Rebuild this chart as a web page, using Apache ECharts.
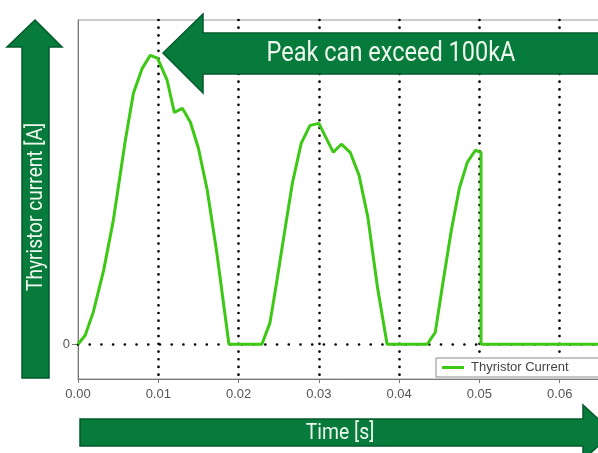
<!DOCTYPE html>
<html>
<head>
<meta charset="utf-8">
<script src="https://cdn.jsdelivr.net/npm/echarts@6/dist/echarts.min.js"></script>
<style>
html,body{margin:0;padding:0;background:#fff;}
#chart{width:598px;height:453px;}
</style>
</head>
<body>
<div id="chart"></div>
<script>
// Time in seconds
var timeS = [0, 0.0009, 0.0019, 0.0032, 0.0044, 0.0059, 0.0069, 0.0080, 0.0090, 0.0099, 0.0111, 0.0120, 0.0130, 0.0140, 0.0150, 0.0161, 0.0173, 0.0188,
  0.0229, 0.0239, 0.02475, 0.0257, 0.0267, 0.0278, 0.0289, 0.0300, 0.0318, 0.0328, 0.0339, 0.0350, 0.0361, 0.0373, 0.0385,
  0.0435, 0.0445, 0.0455, 0.0465, 0.0475, 0.0485, 0.0495, 0.0502, 0.0502, 0.0700];
// Thyristor current (kA, arbitrary scale, first peak ~100kA)
var currentKA = [0, 3.1, 11.1, 25.6, 42.8, 70.5, 86.7, 95.3, 99.8, 98.8, 91.2, 80.1, 81.5, 76.7, 67.7, 53.2, 31.4, 0,
  0, 7.3, 21.5, 38.3, 55.6, 69.4, 75.6, 76.3, 66.3, 69.1, 66.3, 58.4, 43.9, 19.7, 0,
  0, 4.1, 22.1, 39.4, 53.9, 62.9, 67.0, 66.3, 0, 0];
var xTicks = [0, 0.01, 0.02, 0.03, 0.04, 0.05, 0.06];
var yTickValues = [0];
var seriesName = 'Thyristor Current';
var yTitle = 'Thyristor current [A]';
var xTitle = 'Time [s]';
var note = 'Peak can exceed 100kA';

var FONT = 'Roboto, "Liberation Sans", sans-serif';
var LFONT = '"Liberation Sans", Roboto, sans-serif';
var GREEN = '#067b3b';
var GREEN_DARK = '#035a2a';
var LINE = '#3cc814';

var data = timeS.map(function (t, i) { return [t, currentKA[i]]; });

var chart = echarts.init(document.getElementById('chart'), null, {renderer: 'canvas'});
chart.setOption({
  animation: false,
  backgroundColor: '#fff',
  textStyle: {fontFamily: LFONT},
  grid: {
    left: 78, top: 20, right: -42, bottom: 74,
    outerBoundsMode: 'none',
    containLabel: false,
    show: true, borderColor: '#9a9a9a', borderWidth: 1, backgroundColor: '#fff'
  },
  legend: {
    left: 436, top: 358,
    padding: [3, 80, 3, 6],
    backgroundColor: '#fff',
    borderColor: '#8a8a8a', borderWidth: 1, borderRadius: 0,
    itemWidth: 22, itemHeight: 3, itemGap: 10,
    icon: 'rect',
    textStyle: {fontFamily: LFONT, fontSize: 13, color: '#444', padding: [0, 0, 0, 2]},
    data: [seriesName],
    z: 10
  },
  xAxis: {
    type: 'value',
    min: xTicks[0], max: 0.07, interval: 0.01,
    axisLine: {show: true, onZero: false, lineStyle: {color: '#777', width: 1}},
    axisTick: {show: true, length: 4, lineStyle: {color: '#777'}},
    axisLabel: {
      color: '#555', fontSize: 13, fontFamily: LFONT, margin: 9,
      formatter: function (v) { return v.toFixed(2); }
    },
    splitLine: {
      show: true, showMinLine: false, showMaxLine: false,
      lineStyle: {color: '#000', width: 2.7, type: [0.01, 7.7], cap: 'round'}
    }
  },
  yAxis: {
    type: 'value',
    min: -12, max: 112,
    axisLine: {show: true, lineStyle: {color: '#777', width: 1}},
    axisTick: {show: true, length: 6, customValues: yTickValues, lineStyle: {color: '#777'}},
    axisLabel: {show: true, customValues: yTickValues, color: '#555', fontSize: 13, fontFamily: LFONT, margin: 8},
    splitLine: {show: false}
  },
  series: [{
    name: seriesName,
    type: 'line',
    data: data,
    symbol: 'none',
    lineStyle: {color: LINE, width: 3},
    itemStyle: {color: LINE},
    z: 3,
    markLine: {
      silent: true,
      symbol: 'none',
      label: {show: false},
      z: 2,
      lineStyle: {color: '#000', width: 2.7, type: [0.01, 11.7], cap: 'round'},
      data: [{yAxis: 0}]
    }
  }],
  graphic: [
    { // top arrow pointing left
      type: 'polygon', z: 100,
      shape: {points: [[163, 53], [203, 14], [203, 33], [640, 33], [640, 74], [203, 74], [203, 93]]},
      style: {fill: GREEN, stroke: GREEN_DARK, lineWidth: 1.5}
    },
    {
      type: 'text', z: 101, x: 391, y: 54, scaleX: 0.84,
      style: {text: note, fill: '#eef7ee', font: '28px ' + FONT, align: 'center', verticalAlign: 'middle'}
    },
    { // left arrow pointing up
      type: 'polygon', z: 100,
      shape: {points: [[35, 20], [62, 47], [49, 47], [49, 378], [22, 378], [22, 47], [7, 47]]},
      style: {fill: GREEN, stroke: GREEN_DARK, lineWidth: 1.5}
    },
    {
      type: 'text', z: 101, x: 36, y: 207, rotation: Math.PI / 2, scaleX: 0.87,
      style: {text: yTitle, fill: '#eef7ee', font: '22px ' + FONT, align: 'center', verticalAlign: 'middle'}
    },
    { // bottom arrow pointing right
      type: 'polygon', z: 100,
      shape: {points: [[80, 419], [583, 419], [583, 405], [613, 432.5], [583, 460], [583, 446], [80, 446]]},
      style: {fill: GREEN, stroke: GREEN_DARK, lineWidth: 1.5}
    },
    {
      type: 'text', z: 101, x: 340, y: 433, scaleX: 0.88,
      style: {text: xTitle, fill: '#eef7ee', font: '22px ' + FONT, align: 'center', verticalAlign: 'middle'}
    }
  ]
});
</script>
</body>
</html>
